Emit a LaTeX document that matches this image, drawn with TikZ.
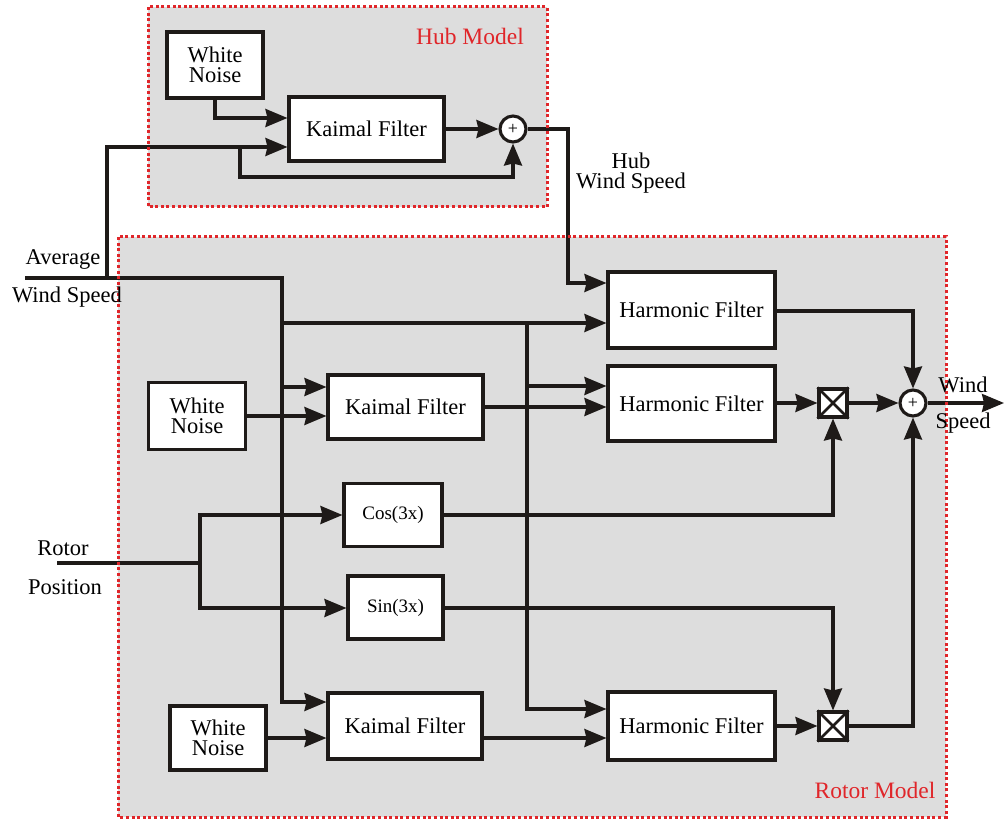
\documentclass[tikz,border=0pt]{standalone}
\usepackage{fontspec}
\setmainfont{Liberation Serif}
\usetikzlibrary{arrows.meta}
\definecolor{dotred}{HTML}{E0262A}
\definecolor{bggray}{HTML}{DDDDDD}
\definecolor{ink}{HTML}{1E1A18}
\begin{document}
\begin{tikzpicture}[x=1pt,y=-1pt,
  conn/.style={line width=3.1pt, draw=ink},
  arr/.style={conn,-{Stealth[length=22pt,width=18pt,inset=2pt]}},
  blk/.style={draw=ink, line width=3.1pt, fill=white, inner sep=0pt, align=center,
     font=\fontsize{22.5}{20}\selectfont},
  smallblk/.style={blk, font=\fontsize{19}{19}\selectfont},
  sumc/.style={draw=ink, line width=3.1pt, fill=white, circle, minimum size=26pt, inner sep=0pt,
     font=\fontsize{18}{18}\selectfont},
  mult/.style={draw=ink, line width=3.1pt, fill=white, rectangle, minimum size=28pt, inner sep=0pt},
  region/.style={draw=dotred, line width=3pt, dash pattern=on 3pt off 2.6pt},
  lbl/.style={inner sep=0pt, align=center, font=\fontsize{22.5}{20}\selectfont},
  redlbl/.style={inner sep=0pt, text=dotred, font=\fontsize{23.5}{23.5}\selectfont}
]
\useasboundingbox (0,0) rectangle (1004,821);

% backgrounds
\fill[bggray] (148,7) rectangle (547,207);
\fill[bggray] (118,237) rectangle (946,817);

% hub model blocks
\node[blk, minimum width=96pt, minimum height=66pt] (hwn) at (215,65) {White\\Noise};
\node[blk, minimum width=155pt, minimum height=64pt] (hkf) at (366.5,129) {Kaimal Filter};
\node[sumc] (hsum) at (513,129) {+};

% rotor model blocks
\node[blk, minimum width=167pt, minimum height=76pt] (hf1) at (691.5,310) {Harmonic Filter};
\node[blk, minimum width=167pt, minimum height=75pt] (hf2) at (691.5,403.5) {Harmonic Filter};
\node[blk, minimum width=167pt, minimum height=68pt] (hf3) at (691.5,726) {Harmonic Filter};
\node[blk, minimum width=155pt, minimum height=64pt] (kf2) at (405.5,407) {Kaimal Filter};
\node[blk, minimum width=154pt, minimum height=66pt] (kf3) at (405,726) {Kaimal Filter};
\node[blk, minimum width=97pt, minimum height=67pt] (wn2) at (197,416) {White\\Noise};
\node[blk, minimum width=96pt, minimum height=64pt] (wn3) at (218,738) {White\\Noise};
\node[smallblk, minimum width=98pt, minimum height=63pt] (cos) at (393,515) {Cos(3x)};
\node[smallblk, minimum width=95pt, minimum height=63pt] (sin) at (395.5,607.5) {Sin(3x)};
\node[mult] (m1) at (833,403) {};
\node[mult] (m2) at (833,726) {};
\draw[conn, line width=2.6pt] (m1.north west) -- (m1.south east) (m1.north east) -- (m1.south west);
\draw[conn, line width=2.6pt] (m2.north west) -- (m2.south east) (m2.north east) -- (m2.south west);
\node[sumc] (sum2) at (913,403) {+};

% coordinates
\coordinate (avgL) at (25,278);
\coordinate (rpL) at (57,563);
\coordinate (out) at (1004,403);

% hub model connectors
\draw[arr] (hwn.south) |- (hkf.west |- 0,118);
\draw[arr] (hkf.east) -- (hsum.west);
\draw[arr] (avgL) -- (107,278) -- (107,147) -- (hkf.west |- 0,147);
\draw[arr] (240,147) -- (240,177) -| (hsum.south);
\draw[arr] (hsum.east) -- (568,129) |- (hf1.west |- 0,283);

% rotor model: average wind speed distribution
\draw[arr] (107,278) -- (282,278) |- (kf3.west |- 0,702);
\draw[arr] (282,323) -- (hf1.west |- 0,323);
\draw[arr] (282,387) -- (kf2.west |- 0,387);
\draw[arr] (527,323) |- (hf3.west |- 0,709);
\draw[arr] (527,386) -- (hf2.west |- 0,386);

% noise paths
\draw[arr] (wn2.east |- 0,416) -- (kf2.west |- 0,416);
\draw[arr] (kf2.east) -- (hf2.west |- 0,407);
\draw[arr] (wn3.east) -- (kf3.west |- 0,738);
\draw[arr] (kf3.east |- 0,738) -- (hf3.west |- 0,738);

% rotor position
\draw[conn] (rpL) -- (200,563);
\draw[arr] (200,563) |- (cos.west);
\draw[arr] (200,563) |- (sin.west |- 0,608);
\draw[arr] (cos.east) -| (m1.south);
\draw[arr] (sin.east |- 0,608) -| (m2.north);

% outputs
\draw[arr] (hf1.east |- 0,311) -| (sum2.north);
\draw[arr] (hf2.east |- 0,403) -- (m1.west);
\draw[arr] (m1.east) -- (sum2.west);
\draw[arr] (hf3.east |- 0,726) -- (m2.west);
\draw[arr] (m2.east) -| (sum2.south);
\draw[arr] (sum2.east) -- (out);

% region borders
\draw[region] (148,7) rectangle (547,207);
\draw[region] (118,237) rectangle (946,817);

% labels
\node[redlbl] (hubm) at (470,36) {Hub Model};
\node[redlbl] (rotm) at (875,790) {Rotor Model};
\node[lbl] (avg1) at (63,260) {Average};
\node[lbl] (avg2) at (67,297) {Wind Speed};
\node[lbl] (rp1) at (63,548) {Rotor};
\node[lbl] (rp2) at (65,587) {Position};
\node[lbl] (hws) at (631,173) {Hub\\Wind Speed};
\node[lbl] (ws1) at (963,385) {Wind};
\node[lbl] (ws2) at (963,423) {Speed};
\end{tikzpicture}
\end{document}
